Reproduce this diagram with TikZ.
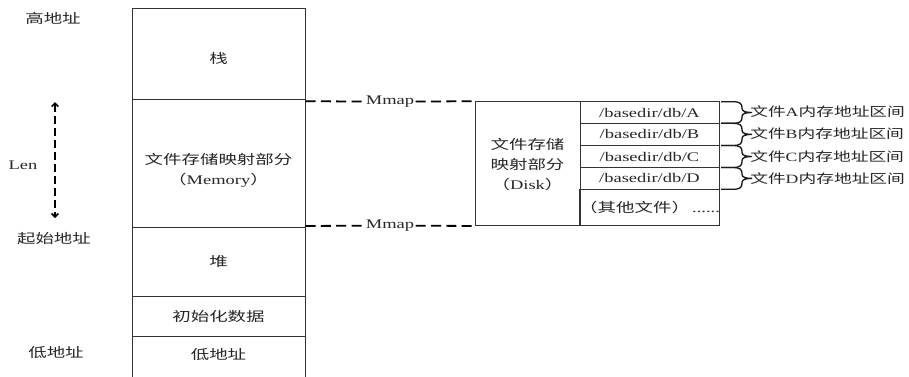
\documentclass[tikz,border=0pt]{standalone}
\usepackage{fontspec}
\setmainfont[FakeStretch=1.4]{Liberation Serif}
\newfontfamily\cjk[FakeStretch=1.4]{Noto Sans CJK SC}
\usetikzlibrary{arrows.meta}
\begin{document}
\begin{tikzpicture}[x=0.75pt,y=-0.75pt,
  every node/.style={font=\fontsize{9.9}{15}\selectfont, text=black!85},
  box/.style={draw=black!80, line width=0.75pt, inner sep=0pt},
  txt/.style={align=center, inner sep=0pt},
  mmapline/.style={draw=black, line width=1.35pt, dash pattern=on 7.5pt off 4pt},
  lenline/.style={draw=black, line width=1.2pt, dash pattern=on 6pt off 3pt,
     {Straight Barb[length=2.5pt,width=5pt]}-{Straight Barb[length=2.5pt,width=5pt]}},
  bracestyle/.style={draw=black!90, line width=1pt},
  lab/.style={anchor=west, inner sep=0pt, font=\fontsize{9.5}{15}\selectfont}]
\useasboundingbox (0,0) rectangle (909,376);
\clip (0,0) rectangle (909,376);

% left stack
\node[box, minimum width=173*0.75pt, minimum height=91*0.75pt] (stk) at (218.5,53.5) {};
\node[box, minimum width=173*0.75pt, minimum height=128*0.75pt] (mem) at (218.5,163) {};
\node[box, minimum width=173*0.75pt, minimum height=69*0.75pt] (heap) at (218.5,261.5) {};
\node[box, minimum width=173*0.75pt, minimum height=40*0.75pt] (init) at (218.5,316) {};
\node[box, minimum width=173*0.75pt, minimum height=46*0.75pt] (low) at (218.5,359) {};

\node[txt] (tstk) at (218.5,58) {\cjk 栈};
\node[txt] (tmem) at (218.5,170) {\cjk 文件存储映射部分\\{\cjk （}Memory{\cjk ）}};
\node[txt] (theap) at (218.5,262) {\cjk 堆};
\node[txt] (tinit) at (218.5,316) {\cjk 初始化数据};
\node[txt] (tlow) at (218.5,354) {\cjk 低地址};

% left labels
\node[txt] (high) at (53,18) {\cjk 高地址};
\node[txt] (len) at (23,165) {Len};
\node[txt] (start) at (54,239) {\cjk 起始地址};
\node[txt] (lowaddr) at (56,352) {\cjk 低地址};
\coordinate (lt) at (55,102);
\coordinate (lb) at (55,218);
\draw[lenline] (lt) -- (lb);

% disk box
\node[box, minimum width=105*0.75pt, minimum height=123.8*0.75pt] (disk) at (527.5,163.6) {};
\node[txt] (tdisk) at (527.5,165) {\cjk 文件存储\\\cjk 映射部分\\{\cjk （}Disk{\cjk ）}};

% table
\node[box, minimum width=139*0.75pt, minimum height=21.6*0.75pt] (rowA) at (649.5,112.5) {/basedir/db/A};
\node[box, minimum width=139*0.75pt, minimum height=22.2*0.75pt] (rowB) at (649.5,134.4) {/basedir/db/B};
\node[box, minimum width=139*0.75pt, minimum height=22*0.75pt] (rowC) at (649.5,156.5) {/basedir/db/C};
\node[box, minimum width=139*0.75pt, minimum height=21.8*0.75pt] (rowD) at (649.5,178.4) {/basedir/db/D};
\node[box, minimum width=139*0.75pt, minimum height=36.2*0.75pt] (rowE) at (649.5,207.4) {{\cjk （其他文件）}\,......};

% Mmap connectors
\node[fill=white, inner sep=1pt] (m1) at (390,101.7) {Mmap};
\node[fill=white, inner sep=1pt] (m2) at (390,225.5) {Mmap};
\draw[mmapline] (disk.north west -| mem.east) -- (m1);
\draw[mmapline] (m1) -- (disk.north west);
\draw[mmapline] (disk.south west -| mem.east) -- (m2);
\draw[mmapline] (m2) -- (disk.south west);

% braces
\newcommand\bracerow[3]{%
  \draw[bracestyle] (721,#1) -- (733,#1) .. controls (740,#1) and (742,#1+2) .. (742,#1+6) -- (742,#3-4)
    .. controls (742,#3-1) and (746,#3) .. (752,#3) .. controls (746,#3) and (742,#3+1) .. (742,#3+4) -- (742,#2-6)
    .. controls (742,#2-2) and (740,#2) .. (733,#2) -- (721,#2);}
\bracerow{101.7}{123.3}{112.5}
\bracerow{123.3}{145.5}{134.4}
\bracerow{145.5}{167.5}{156.5}
\bracerow{167.5}{189.3}{178.4}

\node[lab] (la) at (750,112) {{\cjk 文件}A{\cjk 内存地址区间}};
\node[lab] (lb2) at (750,134) {{\cjk 文件}B{\cjk 内存地址区间}};
\node[lab] (lc) at (750,156.5) {{\cjk 文件}C{\cjk 内存地址区间}};
\node[lab] (ld) at (750,178.5) {{\cjk 文件}D{\cjk 内存地址区间}};
\end{tikzpicture}
\end{document}
